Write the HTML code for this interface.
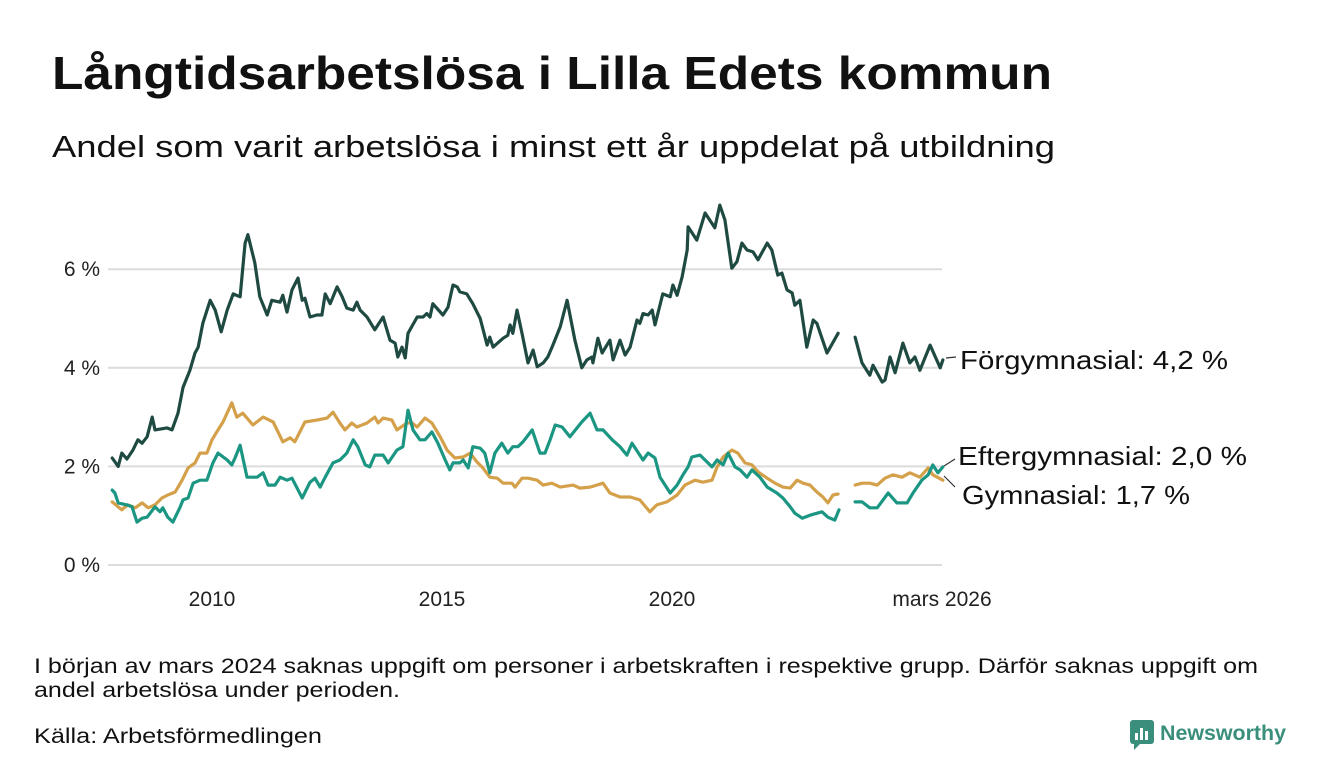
<!DOCTYPE html>
<html><head><meta charset="utf-8"><style>
html,body{margin:0;padding:0;background:#fff;}
svg{display:block;font-family:"Liberation Sans",sans-serif;}
</style></head><body>
<svg id="chart" width="1340" height="780" viewBox="0 0 1340 780">
<text x="52" y="89" font-size="46" font-weight="bold" fill="#111" textLength="1000" lengthAdjust="spacingAndGlyphs">Långtidsarbetslösa i Lilla Edets kommun</text>
<text x="52" y="157" font-size="31" fill="#111" textLength="1003" lengthAdjust="spacingAndGlyphs">Andel som varit arbetslösa i minst ett år uppdelat på utbildning</text>
<g id="grid"></g>
<g id="series"></g>
<g id="labels"></g>
<text x="34" y="673" font-size="21" fill="#111" textLength="1224" lengthAdjust="spacingAndGlyphs">I början av mars 2024 saknas uppgift om personer i arbetskraften i respektive grupp. Därför saknas uppgift om</text>
<text x="34" y="697" font-size="21" fill="#111" textLength="366" lengthAdjust="spacingAndGlyphs">andel arbetslösa under perioden.</text>
<text x="34" y="743" font-size="21" fill="#111" textLength="288" lengthAdjust="spacingAndGlyphs">Källa: Arbetsförmedlingen</text>
<g>
<rect x="1130" y="720" width="24" height="24" rx="3" fill="#3a8f7c"/>
<rect x="1135" y="733" width="3" height="7" fill="#fff"/><rect x="1140" y="728" width="3" height="12" fill="#fff"/><rect x="1145" y="731" width="3" height="9" fill="#fff"/>
<path d="M1134 744 L1134 750 L1140 744 Z" fill="#3a8f7c"/>
<text x="1160" y="740" font-size="21" font-weight="bold" fill="#3a8f7c" textLength="126" lengthAdjust="spacingAndGlyphs">Newsworthy</text>
</g>
</svg>
<script>
const yTicks=[0,2,4,6];
const yTickLabels=["0 %","2 %","4 %","6 %"];
const xTicks=[2010,2015,2020,2025.87];
const xTickLabels=["2010","2015","2020","mars 2026"];
const forgT=[2007.83,2007.96,2008.04,2008.15,2008.28,2008.39,2008.48,2008.59,2008.70,2008.76,2009.02,2009.13,2009.26,2009.37,2009.52,2009.63,2009.70,2009.80,2009.96,2010.07,2010.20,2010.33,2010.46,2010.61,2010.72,2010.78,2010.93,2011.04,2011.20,2011.30,2011.48,2011.54,2011.63,2011.74,2011.87,2011.96,2012.02,2012.13,2012.28,2012.39,2012.46,2012.57,2012.72,2012.83,2012.93,2013.07,2013.15,2013.22,2013.37,2013.54,2013.72,2013.87,2013.98,2014.04,2014.13,2014.20,2014.26,2014.46,2014.59,2014.67,2014.74,2014.80,2015.02,2015.13,2015.24,2015.33,2015.39,2015.54,2015.67,2015.83,2015.98,2016.04,2016.11,2016.33,2016.43,2016.48,2016.54,2016.63,2016.74,2016.87,2016.98,2017.07,2017.20,2017.30,2017.41,2017.57,2017.72,2017.89,2018.04,2018.15,2018.26,2018.28,2018.39,2018.48,2018.65,2018.72,2018.87,2018.98,2019.09,2019.24,2019.30,2019.37,2019.48,2019.57,2019.63,2019.80,2019.96,2020.02,2020.11,2020.22,2020.33,2020.35,2020.54,2020.72,2020.93,2021.04,2021.15,2021.30,2021.41,2021.52,2021.63,2021.76,2021.87,2022.07,2022.17,2022.30,2022.39,2022.50,2022.61,2022.67,2022.78,2022.93,2023.07,2023.15,2023.37,2023.61,2023.80,2023.98,2024.13,2024.30,2024.37,2024.57,2024.63,2024.74,2024.85,2025.02,2025.17,2025.28,2025.39,2025.61,2025.83,2025.89];
const forgV=[2.17,2.0,2.27,2.15,2.33,2.54,2.47,2.6,3.0,2.74,2.78,2.74,3.08,3.6,3.95,4.3,4.42,4.9,5.37,5.17,4.73,5.17,5.5,5.44,6.53,6.7,6.13,5.44,5.07,5.37,5.33,5.47,5.13,5.58,5.82,5.37,5.41,5.03,5.07,5.07,5.5,5.3,5.64,5.44,5.21,5.17,5.33,5.17,5.03,4.77,5.03,4.56,4.5,4.22,4.42,4.2,4.7,5.03,5.03,5.1,5.03,5.3,5.07,5.23,5.68,5.64,5.54,5.5,5.3,5.0,4.46,4.62,4.42,4.6,4.66,4.87,4.7,5.17,4.7,4.1,4.36,4.02,4.1,4.22,4.46,4.83,5.37,4.56,4.0,4.16,4.22,4.1,4.6,4.3,4.56,4.16,4.56,4.26,4.42,4.97,4.9,5.1,5.07,5.17,4.87,5.5,5.44,5.68,5.47,5.84,6.39,6.86,6.59,7.14,6.84,7.3,7.0,6.02,6.15,6.53,6.39,6.35,6.19,6.53,6.39,5.88,5.92,5.58,5.52,5.27,5.37,4.42,4.97,4.9,4.3,4.7,null,4.62,4.1,3.85,4.05,3.71,3.75,4.22,3.9,4.5,4.1,4.22,3.95,4.46,4.0,4.16];
const efterT=[2007.83,2007.89,2007.96,2008.15,2008.26,2008.37,2008.48,2008.59,2008.76,2008.87,2008.93,2009.04,2009.15,2009.30,2009.37,2009.48,2009.59,2009.74,2009.89,2010.02,2010.13,2010.33,2010.43,2010.50,2010.61,2010.76,2010.98,2011.11,2011.22,2011.37,2011.48,2011.63,2011.74,2011.96,2012.13,2012.24,2012.35,2012.46,2012.63,2012.78,2012.93,2013.07,2013.17,2013.33,2013.43,2013.54,2013.72,2013.83,2014.02,2014.15,2014.26,2014.37,2014.52,2014.63,2014.78,2014.91,2015.07,2015.17,2015.24,2015.39,2015.46,2015.57,2015.67,2015.83,2015.93,2016.04,2016.15,2016.30,2016.43,2016.54,2016.65,2016.76,2016.96,2017.13,2017.24,2017.35,2017.46,2017.61,2017.78,2018.04,2018.22,2018.37,2018.50,2018.70,2018.87,2019.02,2019.13,2019.37,2019.48,2019.63,2019.74,2019.96,2020.11,2020.24,2020.35,2020.43,2020.61,2020.87,2020.98,2021.11,2021.22,2021.37,2021.48,2021.63,2021.74,2021.91,2022.07,2022.28,2022.41,2022.57,2022.67,2022.83,2023.00,2023.26,2023.39,2023.54,2023.63,2023.80,2023.98,2024.13,2024.30,2024.46,2024.70,2024.89,2025.11,2025.24,2025.43,2025.57,2025.67,2025.78,2025.89];
const efterV=[1.52,1.46,1.26,1.22,1.18,0.87,0.95,0.97,1.18,1.08,1.16,0.97,0.87,1.16,1.32,1.36,1.66,1.72,1.72,2.07,2.27,2.13,2.03,2.17,2.43,1.78,1.78,1.87,1.62,1.62,1.78,1.72,1.76,1.36,1.68,1.76,1.58,1.78,2.07,2.13,2.27,2.54,2.4,2.03,1.99,2.23,2.23,2.07,2.33,2.4,3.14,2.74,2.54,2.54,2.70,2.47,2.13,1.93,2.07,2.07,2.13,1.97,2.4,2.37,2.27,1.87,2.27,2.47,2.27,2.4,2.4,2.5,2.74,2.27,2.27,2.54,2.84,2.8,2.6,2.9,3.08,2.74,2.74,2.54,2.4,2.23,2.47,2.13,2.27,2.17,1.78,1.46,1.62,1.83,1.99,2.19,2.23,1.99,2.13,2.03,2.27,1.99,1.93,1.78,1.93,1.78,1.58,1.46,1.36,1.18,1.05,0.95,1.01,1.08,0.97,0.91,1.12,null,1.28,1.28,1.16,1.16,1.46,1.26,1.26,1.46,1.72,1.83,2.03,1.87,1.99];
const gymT=[2007.83,2008.04,2008.17,2008.33,2008.48,2008.61,2008.76,2008.91,2009.04,2009.20,2009.35,2009.48,2009.63,2009.74,2009.89,2010.00,2010.13,2010.24,2010.43,2010.54,2010.67,2010.89,2011.11,2011.33,2011.54,2011.70,2011.80,2012.02,2012.28,2012.50,2012.63,2012.78,2012.89,2013.04,2013.15,2013.37,2013.54,2013.61,2013.72,2013.91,2014.02,2014.24,2014.35,2014.46,2014.63,2014.78,2014.96,2015.11,2015.28,2015.46,2015.61,2015.76,2015.89,2016.04,2016.20,2016.33,2016.52,2016.59,2016.74,2016.87,2017.07,2017.20,2017.39,2017.57,2017.85,2018.00,2018.22,2018.50,2018.65,2018.87,2019.09,2019.30,2019.52,2019.67,2019.89,2020.11,2020.28,2020.50,2020.67,2020.87,2020.98,2021.11,2021.30,2021.43,2021.59,2021.74,2021.87,2022.07,2022.24,2022.41,2022.57,2022.72,2022.85,2023.00,2023.15,2023.28,2023.39,2023.50,2023.61,2023.80,2023.98,2024.13,2024.30,2024.46,2024.63,2024.80,2025.00,2025.17,2025.39,2025.57,2025.67,2025.89];
const gymV=[1.28,1.12,1.22,1.16,1.26,1.16,1.22,1.36,1.42,1.48,1.72,1.97,2.07,2.27,2.27,2.54,2.74,2.9,3.29,3.0,3.08,2.84,3.0,2.9,2.5,2.58,2.5,2.9,2.94,2.98,3.1,2.88,2.74,2.88,2.8,2.88,3.0,2.88,2.98,2.94,2.74,2.88,2.88,2.8,2.98,2.88,2.6,2.33,2.17,2.19,2.27,2.09,1.97,1.78,1.76,1.66,1.66,1.58,1.76,1.76,1.72,1.62,1.66,1.58,1.62,1.56,1.58,1.66,1.46,1.38,1.38,1.32,1.08,1.22,1.28,1.42,1.62,1.72,1.68,1.72,1.99,2.19,2.33,2.27,2.07,2.03,1.89,1.76,1.66,1.58,1.56,1.72,1.66,1.62,1.48,1.38,1.26,1.42,1.44,null,1.62,1.66,1.66,1.62,1.76,1.83,1.78,1.87,1.78,1.97,1.83,1.72];

const NS="http://www.w3.org/2000/svg";
const X0=108,X1=942;
const xS=t=>212+(t-2010)*46;
const yS=v=>565-v*49.3;
const grid=document.getElementById('grid');
function mk(tag,attrs,parent){const e=document.createElementNS(NS,tag);for(const k in attrs)e.setAttribute(k,attrs[k]);parent.appendChild(e);return e;}
yTicks.forEach((v,i)=>{
  const l=mk('line',{x1:X0,x2:X1,y1:yS(v),y2:yS(v),stroke:'#dcdcdc','stroke-width':2},grid);
  
  
  const t=mk('text',{x:100,y:yS(v)+7,'text-anchor':'end','font-size':21,fill:'#222'},grid);
  t.textContent=yTickLabels[i];
  
  
});
xTicks.forEach((v,i)=>{
  const t=mk('text',{x:xS(v),y:606,'text-anchor':'middle','font-size':21,fill:'#222'},grid);
  t.textContent=xTickLabels[i];
  
  
});
const ser=document.getElementById('series');
function draw(T,V,color,name){
  let d='',pen=false;
  for(let i=0;i<T.length;i++){
    if(V[i]===null){pen=false;continue;}
    d+=(pen?'L':'M')+xS(T[i]).toFixed(1)+' '+yS(V[i]).toFixed(1)+' ';pen=true;
  }
  const p=mk('path',{d:d,fill:'none',stroke:color,'stroke-width':3.2,'stroke-linejoin':'round','stroke-linecap':'round'},ser);
  
  
}
draw(gymT,gymV,'#d4a04a','line-gymnasial');
draw(efterT,efterV,'#1a9683','line-eftergymnasial');
draw(forgT,forgV,'#1f4a42','line-forgymnasial');

const lab=document.getElementById('labels');
function label(txt,x,y,w,lx1,ly1,lx2,ly2,name){
  const l=mk('line',{x1:lx1,y1:ly1,x2:lx2,y2:ly2,stroke:'#333','stroke-width':1.2},lab);
  
  
  const t=mk('text',{x:x,y:y,'font-size':26,fill:'#111',textLength:w,lengthAdjust:'spacingAndGlyphs'},lab);
  t.textContent=txt;
  
  
}
label('Förgymnasial: 4,2 %',960,369,268,946,358,956,357,'label-forgymnasial');
label('Eftergymnasial: 2,0 %',958,465,289,944,466,955,459,'label-eftergymnasial');
label('Gymnasial: 1,7 %',962,504,228,944,476,955,487,'label-gymnasial');
</script>
</body></html>
